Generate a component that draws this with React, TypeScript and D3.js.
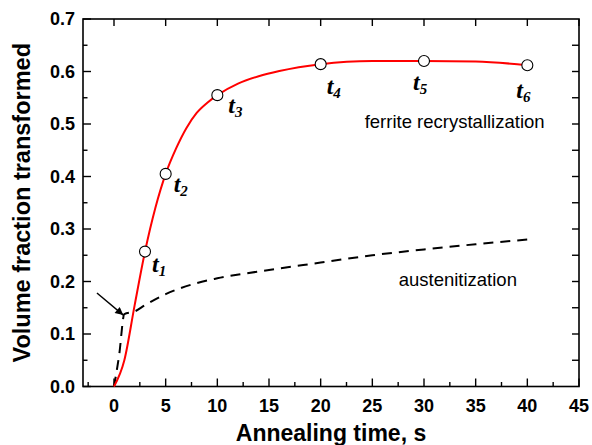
import React from "react";
import * as d3 from "d3";

// ---- data ----
const ferriteTime = [0, 1, 2, 3, 4, 5, 6, 7, 8, 9, 10, 12, 14, 16, 20, 25, 30, 35, 40];
const ferriteFrac = [0, 0.05, 0.155, 0.257, 0.34, 0.405, 0.453, 0.492, 0.521, 0.54, 0.555, 0.577, 0.591, 0.601, 0.614, 0.62, 0.62, 0.619, 0.612];

const austTime = [0, 0.5, 1, 2, 3, 5, 8, 10, 15, 20, 25, 30, 35, 40];
const austFrac = [0, 0.06, 0.138, 0.143, 0.155, 0.176, 0.197, 0.206, 0.222, 0.236, 0.25, 0.261, 0.271, 0.28];

const markerTime = [3, 5, 10, 20, 30, 40];
const markerFrac = [0.257, 0.405, 0.555, 0.614, 0.62, 0.612];
const markerSub = ["1", "2", "3", "4", "5", "6"];

const xTickValues = [0, 5, 10, 15, 20, 25, 30, 35, 40, 45];
const yTickValues = [0, 0.1, 0.2, 0.3, 0.4, 0.5, 0.6, 0.7];

const xTitle = "Annealing time, s";
const yTitle = "Volume fraction transformed";
const ferriteText = "ferrite recrystallization";
const austText = "austenitization";

// annotation anchors (data space)
const ferriteTextAt = [24.26, 0.492];
const austTextAt = [27.55, 0.192];
const arrowFrom = [-1.65, 0.178];
const arrowTo = [0.9, 0.136];

// ---- layout ----
const W = 592;
const H = 445;
const L = 83, R = 579, T = 19, B = 386.5;
const labelOffsets = [[7, 20], [8, 18], [11, 18], [6, 30], [-11, 29], [-11, 33]];

const sans = "Arial, 'Liberation Sans', Helvetica, sans-serif";
const serif = "'Times New Roman', 'Liberation Serif', serif";

export default function App() {
  const x = d3.scaleLinear().domain([-3, 45]).range([L, R]);
  const y = d3.scaleLinear().domain([0, 0.7]).range([B, T]);

  const line = d3
    .line<number[]>()
    .x((d) => x(d[0]))
    .y((d) => y(d[1]))
    .curve(d3.curveMonotoneX);

  const ferritePts = ferriteTime.map((t, i) => [t, ferriteFrac[i]]);
  const austPts = austTime.map((t, i) => [t, austFrac[i]]);

  const xMinor = d3.range(-2.5, 45, 5);
  const yMinor = d3.range(0.05, 0.7, 0.1);
  const rightTicks = d3.range(0.05, 0.7, 0.05);
  const fmt = d3.format(".1f");

  return (
    <svg
      width={W}
      height={H}
      style={{ position: "absolute", left: 0, top: 0, background: "#fff" }}
    >
      <defs>
        <marker
          id="ah"
          viewBox="0 0 10 10"
          refX="10"
          refY="5"
          markerWidth="12"
          markerHeight="8"
          markerUnits="userSpaceOnUse"
          orient="auto"
        >
          <path d="M0,0 L10,5 L0,10 z" fill="#000" />
        </marker>
      </defs>

      {/* frame */}
      <rect x={L} y={T} width={R - L} height={B - T} fill="none" stroke="#000" strokeWidth={1.6} />

      {/* bottom ticks */}
      {xTickValues.map((v) => (
        <line key={"xb" + v} x1={x(v)} x2={x(v)} y1={B} y2={B - 8} stroke="#000" strokeWidth={1.4} />
      ))}
      {xMinor.map((v) => (
        <line key={"xm" + v} x1={x(v)} x2={x(v)} y1={B} y2={B - 4.5} stroke="#000" strokeWidth={1.4} />
      ))}
      {/* top ticks */}
      {xTickValues.map((v) => (
        <line key={"xt" + v} x1={x(v)} x2={x(v)} y1={T} y2={T + 7} stroke="#000" strokeWidth={1.4} />
      ))}
      {/* left ticks */}
      {yTickValues.map((v) => (
        <line key={"yl" + v} x1={L} x2={L + 8} y1={y(v)} y2={y(v)} stroke="#000" strokeWidth={1.4} />
      ))}
      {yMinor.map((v) => (
        <line key={"ym" + v} x1={L} x2={L + 4.5} y1={y(v)} y2={y(v)} stroke="#000" strokeWidth={1.4} />
      ))}
      {/* right ticks */}
      {rightTicks.map((v) => (
        <line key={"yr" + v} x1={R} x2={R - 7} y1={y(v)} y2={y(v)} stroke="#000" strokeWidth={1.4} />
      ))}

      {/* tick labels */}
      {xTickValues.map((v) => (
        <text
          key={"xl" + v}
          x={x(v)}
          y={411.5}
          textAnchor="middle"
          fontFamily={sans}
          fontWeight="bold"
          fontSize={18}
        >
          {v}
        </text>
      ))}
      {yTickValues.map((v) => (
        <text
          key={"yt" + v}
          x={75}
          y={y(v)}
          dy="0.36em"
          textAnchor="end"
          fontFamily={sans}
          fontWeight="bold"
          fontSize={18}
        >
          {fmt(v)}
        </text>
      ))}

      {/* axis titles */}
      <text
        x={(L + R) / 2}
        y={441}
        textAnchor="middle"
        fontFamily={sans}
        fontWeight="bold"
        fontSize={23}
      >
        {xTitle}
      </text>
      <text
        transform={`translate(30,${(T + B) / 2}) rotate(-90)`}
        textAnchor="middle"
        fontFamily={sans}
        fontWeight="bold"
        fontSize={23.5}
      >
        {yTitle}
      </text>

      {/* curves */}
      <path d={line(austPts) || ""} fill="none" stroke="#000" strokeWidth={2} strokeDasharray="10,7" />
      <path d={line(ferritePts) || ""} fill="none" stroke="#ff0000" strokeWidth={2} />

      {/* markers */}
      {markerTime.map((t, i) => (
        <circle key={"m" + i} cx={x(t)} cy={y(markerFrac[i])} r={5.5} fill="#fff" stroke="#000" strokeWidth={1.1} />
      ))}
      {markerTime.map((t, i) => (
        <text
          key={"ml" + i}
          x={x(t) + labelOffsets[i][0]}
          y={y(markerFrac[i]) + labelOffsets[i][1]}
          fontFamily={serif}
          fontStyle="italic"
          fontWeight="bold"
          fontSize={24}
        >
          t
          <tspan fontSize={15} dy={4}>
            {markerSub[i]}
          </tspan>
        </text>
      ))}

      {/* arrow */}
      <line
        x1={x(arrowFrom[0])}
        y1={y(arrowFrom[1])}
        x2={x(arrowTo[0])}
        y2={y(arrowTo[1])}
        stroke="#000"
        strokeWidth={1.4}
        markerEnd="url(#ah)"
      />

      {/* annotations */}
      <text x={x(ferriteTextAt[0])} y={y(ferriteTextAt[1])} fontFamily={sans} fontSize={18.5}>
        {ferriteText}
      </text>
      <text x={x(austTextAt[0])} y={y(austTextAt[1])} fontFamily={sans} fontSize={18.5}>
        {austText}
      </text>
    </svg>
  );
}
